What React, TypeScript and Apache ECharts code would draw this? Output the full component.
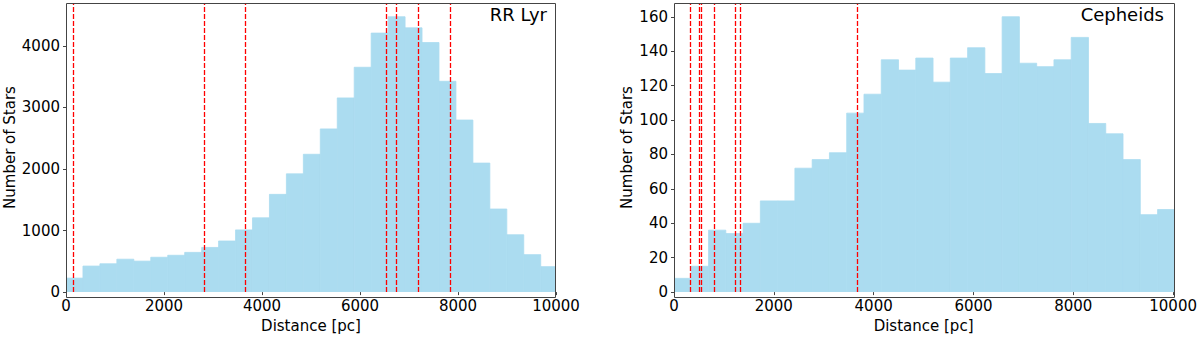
import React, { useEffect, useRef } from "react";
import * as echarts from "echarts";

// Histogram bins (pc): equal-width bins starting at 0
const BIN_START = 0;
const BIN_WIDTH = 346;

// RR Lyr counts per bin
const RR_COUNTS = [
  227, 423, 460, 534, 503, 566, 598, 645, 725, 830, 1010, 1206, 1587, 1920, 2238,
  2650, 3153, 3651, 4206, 4471, 4291, 4053, 3423, 2794, 2095, 1349, 931, 608, 413,
];
// Cepheid counts per bin
const CEP_COUNTS = [
  8, 15, 36, 34, 40, 53, 53, 72, 77, 81, 104, 115, 135, 129, 136, 122, 136, 142,
  127, 160, 133, 131, 135, 148, 98, 92, 77, 45, 48,
];
// Dashed reference lines (pc)
const RR_LINES = [150, 2822, 3658, 6529, 6740, 7196, 7840];
const CEP_LINES = [326, 512, 539, 805, 1231, 1331, 3670];

const X_TICKS = [0, 2000, 4000, 6000, 8000, 10000];
const RR_Y_TICKS = [0, 1000, 2000, 3000, 4000];
const CEP_Y_TICKS = [0, 20, 40, 60, 80, 100, 120, 140, 160];

const RR_TITLE = "RR Lyr";
const CEP_TITLE = "Cepheids";
const X_NAME = "Distance [pc]";
const Y_NAME = "Number of Stars";

const FONT = "DejaVu Sans";
const BAR_COLOR = "#abdcf0";
const FRAME = "#444";

function binsOf(counts: number[]) {
  return counts.map((c, i) => [BIN_START + i * BIN_WIDTH, BIN_START + (i + 1) * BIN_WIDTH, c]);
}

const GRIDS = [
  { left: 66, top: 3, width: 490, height: 295 },
  { left: 674, top: 3, width: 501, height: 295 },
];

const plain = (v: number) => String(v);

export default function App() {
  const ref = useRef<HTMLDivElement>(null);
  useEffect(() => {
    if (!ref.current) return;
    const chart = echarts.init(ref.current, null, { renderer: "svg" });
    const rrMax = Math.max(...RR_COUNTS) * 1.05;
    const cepMax = Math.max(...CEP_COUNTS) * 1.05;

    const xAxisOf = (gi: number) => ({
      type: "value",
      gridIndex: gi,
      min: 0,
      max: 10000,
      interval: 2000,
      name: X_NAME,
      nameLocation: "middle",
      nameGap: 21,
      nameTextStyle: { fontFamily: FONT, fontSize: 15, color: "#000" },
      axisLine: { show: false },
      axisTick: { show: true, length: 3, lineStyle: { color: FRAME }, customValues: X_TICKS },
      axisLabel: { fontFamily: FONT, fontSize: 15, color: "#000", margin: 6, customValues: X_TICKS, formatter: plain },
      splitLine: { show: false },
    });
    const yAxisOf = (gi: number, max: number, ticks: number[], gap: number) => ({
      type: "value",
      gridIndex: gi,
      min: 0,
      max,
      name: Y_NAME,
      nameLocation: "middle",
      nameGap: gap,
      nameTextStyle: { fontFamily: FONT, fontSize: 15, color: "#000" },
      axisLine: { show: false },
      axisTick: { show: true, length: 3, lineStyle: { color: FRAME }, customValues: ticks },
      axisLabel: { fontFamily: FONT, fontSize: 15, color: "#000", margin: 6, customValues: ticks, formatter: plain },
      splitLine: { show: false },
    });

    const renderBar = (params: any, api: any) => {
      const p0 = api.coord([api.value(0), api.value(2)]);
      const p1 = api.coord([api.value(1), 0]);
      return {
        type: "rect",
        shape: { x: p0[0], y: p0[1], width: p1[0] - p0[0], height: p1[1] - p0[1] },
        style: { fill: BAR_COLOR, stroke: BAR_COLOR, lineWidth: 0.8 },
      };
    };

    const markLineOf = (vals: number[]) => ({
      silent: true,
      symbol: ["none", "none"],
      label: { show: false },
      animation: false,
      lineStyle: { color: "#ff0000", type: [5, 2], width: 1.3 },
      data: vals.map((v) => ({ xAxis: v })),
    });

    const frames = GRIDS.map((g) => ({
      type: "rect",
      z: 100,
      silent: true,
      shape: { x: g.left + 0.5, y: g.top + 0.5, width: g.width - 1, height: g.height - 1 },
      style: { fill: "none", stroke: FRAME, lineWidth: 1 },
    }));

    chart.setOption({
      animation: false,
      textStyle: { fontFamily: FONT },
      grid: GRIDS.map((g) => ({ ...g, containLabel: false })),
      title: [
        { text: RR_TITLE, right: 653, top: 5, padding: 0, textStyle: { fontFamily: FONT, fontSize: 18, fontWeight: "normal", color: "#000" } },
        { text: CEP_TITLE, right: 36, top: 5, padding: 0, textStyle: { fontFamily: FONT, fontSize: 18, fontWeight: "normal", color: "#000" } },
      ],
      xAxis: [xAxisOf(0), xAxisOf(1)],
      yAxis: [yAxisOf(0, rrMax, RR_Y_TICKS, 46), yAxisOf(1, cepMax, CEP_Y_TICKS, 40)],
      series: [
        {
          type: "custom",
          xAxisIndex: 0,
          yAxisIndex: 0,
          clip: true,
          renderItem: renderBar,
          encode: { x: [0, 1], y: 2 },
          data: binsOf(RR_COUNTS),
          z: 2,
        },
        {
          type: "custom",
          xAxisIndex: 1,
          yAxisIndex: 1,
          clip: true,
          renderItem: renderBar,
          encode: { x: [0, 1], y: 2 },
          data: binsOf(CEP_COUNTS),
          z: 2,
        },
        { type: "line", xAxisIndex: 0, yAxisIndex: 0, data: [], z: 5, markLine: markLineOf(RR_LINES) },
        { type: "line", xAxisIndex: 1, yAxisIndex: 1, data: [], z: 5, markLine: markLineOf(CEP_LINES) },
      ],
      graphic: frames,
    });
    return () => chart.dispose();
  }, []);
  return (
    <div
      ref={ref}
      style={{ position: "absolute", left: 0, top: 0, width: 1200, height: 338, background: "#fff" }}
    />
  );
}
